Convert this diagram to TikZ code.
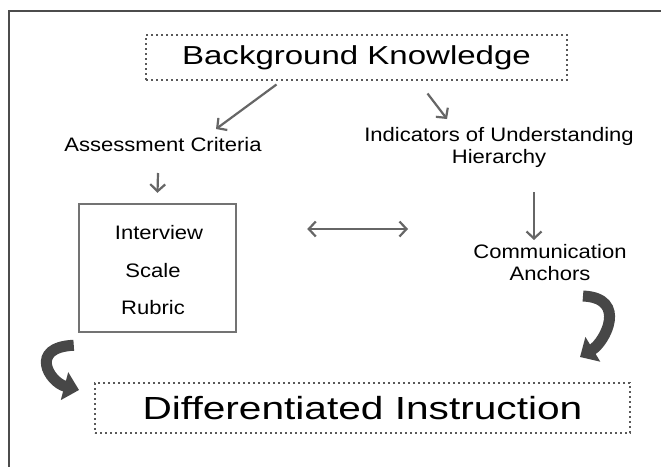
\documentclass[tikz,border=0pt]{standalone}
\usepackage{fontspec}
\setmainfont{Liberation Sans}
\usetikzlibrary{arrows.meta,calc}
\newcommand{\widetxt}[1]{\scalebox{1.13}[1]{#1}}
\newcommand{\widebig}[1]{\scalebox{1.27}[1]{#1}}
\tikzset{
  txt/.style={inner sep=0pt, align=center, font=\fontsize{19.5}{22}\selectfont},
  bigtxt/.style={draw=gray!70!black, dash pattern=on 2pt off 3pt, line width=2pt, inner sep=0pt},
  arr/.style={draw=gray!80!black, line width=2.2pt, -{Straight Barb[length=7pt,width=15pt]}},
  twoarr/.style={draw=gray!80!black, line width=2.2pt, {Straight Barb[length=7pt,width=15pt]}-{Straight Barb[length=7pt,width=15pt]}},
  bendarr/.style={draw=black!72, line width=11pt, -{Triangle[length=15pt 0,width=28pt 0]}}
}
\begin{document}
\begin{tikzpicture}[x=1pt,y=-1pt]
\useasboundingbox (0,0) rectangle (661,466);
\fill[white] (0,0) rectangle (661,466);
\draw[gray!60!black, line width=2pt] (9,470) -- (9,11) -- (670,11);

\node[bigtxt, minimum width=421pt, minimum height=45pt, font=\fontsize{26}{30}\selectfont] (bk) at (356.5,57.5){\widebig{Background Knowledge}};
\node[txt] (ac) at (163,145){\widetxt{Assessment Criteria}};
\node[txt] (ind) at (499,147){\widetxt{Indicators of Understanding}\\\widetxt{Hierarchy}};
\node[draw=gray!90!black, line width=2.5pt, minimum width=157pt, minimum height=128pt] (box) at (157.5,268){};
\node[txt] (iv) at (159,233){\widetxt{Interview}};
\node[txt] (sc) at (153,271){\widetxt{Scale}};
\node[txt] (rb) at (153,308){\widetxt{Rubric}};
\node[txt] (comm) at (550,263){\widetxt{Communication}\\\widetxt{Anchors}};
\node[bigtxt, minimum width=535pt, minimum height=50pt, font=\fontsize{32}{36}\selectfont] (di) at (362.5,408){\widebig{Differentiated Instruction}};

\draw[arr] ($(bk)+(-80,27)$) -- ($(ac)+(53,-16)$);
\draw[arr] ($(bk)+(71,36)$) -- ($(ind)+(-52,-28)$);
\draw[arr] ($(ac)+(-5,28)$) -- ($(box.north)+(0,-10)$);
\draw[arr] ($(ind)+(35,45)$) -- ($(comm)+(-16,-23)$);
\draw[twoarr] ($(box.east)+(70,-39)$) -- ($(comm)+(-142,-34)$);

\draw[bendarr] ($(box.south west)+(-4,12)$) .. controls +(-45,2) and +(-30,-8) .. ($(di.west)+(-15,-18)$);
\draw[bendarr] ($(comm)+(33,33)$) .. controls +(45,2) and +(25,-15) .. ($(di.north east)+(-51,-25)$);
\end{tikzpicture}
\end{document}
